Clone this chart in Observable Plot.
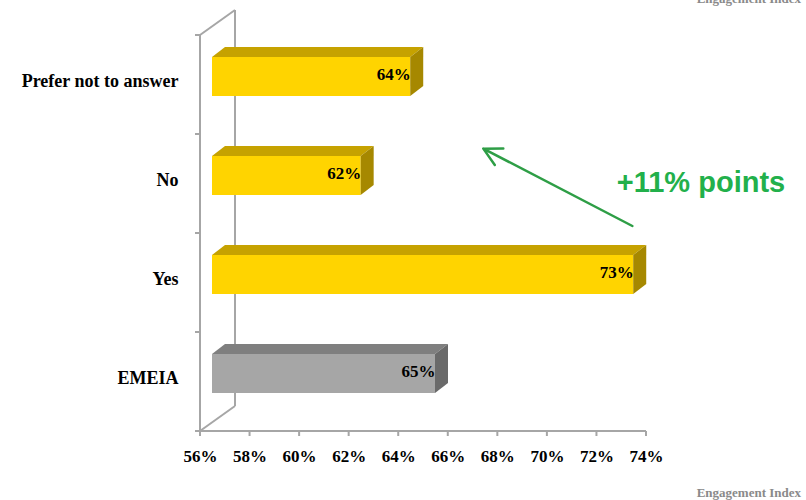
<!DOCTYPE html>
<html><head><meta charset="utf-8">
<script src="https://cdn.jsdelivr.net/npm/d3@7"></script>
<script src="https://cdn.jsdelivr.net/npm/@observablehq/plot@0.6"></script>
<style>
body{margin:0;background:#fff;}
#wrap{position:relative;width:806px;height:500px;overflow:hidden;}
.ei{position:absolute;right:5px;font-family:"Liberation Serif",serif;font-weight:bold;font-size:13px;line-height:13px;color:#8a8a8a;white-space:nowrap;}
</style></head><body>
<div id="wrap"></div>
<script>
// ---- data ----
const categories = ["Prefer not to answer", "No", "Yes", "EMEIA"];
const values = [64, 62, 73, 65];
const kinds = ["segment", "segment", "segment", "benchmark"];
const xDomain = [56, 74];
const xTicks = [56, 58, 60, 62, 64, 66, 68, 70, 72, 74];
const annotationText = "+11% points";
const footerText = "Engagement Index";
// arrow annotation endpoints (data units + category)
const arrowFrom = {x: 73.43, cat: "Yes"};
const arrowTo = {x: 65.73, cat: "No"};
const annotationAt = {x: 72.8, cat: "No"};

const data = categories.map((c, i) => ({category: c, value: values[i], kind: kinds[i]}));
const palette = {
  segment: {front: "#FFD400", top: "#C6A200", side: "#A68800"},
  benchmark: {front: "#A6A6A6", top: "#7F7F7F", side: "#6A6A6A"}
};
const DX = 12, DY = -8, BX = 13, BY = -10, INSET = 30, WX = 35, WY = -25;
const gridColor = "#A6A6A6";

const wrap = document.getElementById("wrap");
const top1 = document.createElement("div");
top1.className = "ei"; top1.style.top = "-8px"; top1.textContent = footerText;
const bot1 = document.createElement("div");
bot1.className = "ei"; bot1.style.top = "486px"; bot1.textContent = footerText;

const plot = Plot.plot({
  width: 806, height: 500,
  marginLeft: 200, marginRight: 160, marginTop: 33, marginBottom: 68,
  style: {fontFamily: "'Liberation Serif', serif", fontSize: "17px", fontWeight: "bold", color: "#000", background: "transparent", overflow: "visible"},
  x: {domain: xDomain, ticks: xTicks, tickFormat: d => d + "%", tickSize: 0, tickPadding: 17, label: null},
  y: {domain: categories, padding: 0, axis: null},
  color: {type: "identity"},
  marks: [
    Plot.barX(data, {x1: () => xDomain[0], x2: "value", y: "category", fill: d => palette[d.kind].front,
      insetTop: INSET, insetBottom: INSET, dx: DX, dy: DY}),
    Plot.text(data, {x: () => xDomain[0], y: "category", text: "category", textAnchor: "end",
      dx: -22, dy: -4, fontSize: 18, fontWeight: "bold", fill: "#000"}),
    Plot.text(data, {x: "value", y: "category", text: d => d.value + "%", textAnchor: "end",
      dx: DX, dy: DY - 2, fontSize: 17, fontWeight: "bold", fill: "#000"}),
    Plot.arrow([{}], {x1: () => arrowFrom.x, y1: () => arrowFrom.cat, x2: () => arrowTo.x, y2: () => arrowTo.cat,
      dy: -57, insetEnd: 47, stroke: "#2E9E46", strokeWidth: 2.5, headLength: 12, headAngle: 55}),
    Plot.text([annotationText], {x: () => annotationAt.x, y: () => annotationAt.cat, text: d => d, textAnchor: "start",
      fontFamily: "'Liberation Sans', Arial, sans-serif", fontSize: 29, fontWeight: "bold", fill: "#22B04B", dy: -1})
  ]
});

wrap.appendChild(plot);
wrap.appendChild(top1);
wrap.appendChild(bot1);

const svg = d3.select(plot.tagName.toLowerCase() === "svg" ? plot : plot.querySelector("svg"));
const sx = plot.scale("x"), sy = plot.scale("y");
const X = v => sx.apply(v);
const Y = c => sy.apply(c);
const bw = sy.bandwidth;
const x0 = X(xDomain[0]), x1 = X(xDomain[1]);
const y0 = Y(categories[0]), y1 = Y(categories[categories.length - 1]) + bw;

// frame (walls, axis line, ticks)
const frame = svg.insert("g", ":first-child").attr("stroke", gridColor).attr("stroke-width", 2).attr("fill", "none");
const seg = (a, b, c, d) => frame.append("line").attr("x1", a).attr("y1", b).attr("x2", c).attr("y2", d);
seg(x0, y0, x0, y1);
seg(x0 + WX, y0 + WY, x0 + WX, y1 + WY);
seg(x0, y0, x0 + WX, y0 + WY);
seg(x0, y1, x0 + WX, y1 + WY);
seg(x0, y1, x1, y1);
xTicks.forEach(t => seg(X(t), y1, X(t), y1 + 5));
categories.forEach(c => seg(x0 - 5, Y(c), x0, Y(c)));
seg(x0 - 5, y1, x0, y1);

// 3D faces
const faces = svg.append("g");
data.forEach(d => {
  const xs = x0 + DX, xe = X(d.value) + DX;
  const yt = Y(d.category) + INSET + DY, yb = Y(d.category) + bw - INSET + DY;
  const p = palette[d.kind];
  faces.append("polygon").attr("points", [[xs, yt], [xe, yt], [xe + BX, yt + BY], [xs + BX, yt + BY]].join(" ")).attr("fill", p.top);
  faces.append("polygon").attr("points", [[xe, yt], [xe + BX, yt + BY], [xe + BX, yb + BY], [xe, yb]].join(" ")).attr("fill", p.side);
});
svg.selectAll('g[aria-label="text"]').raise();
</script>
</body></html>
